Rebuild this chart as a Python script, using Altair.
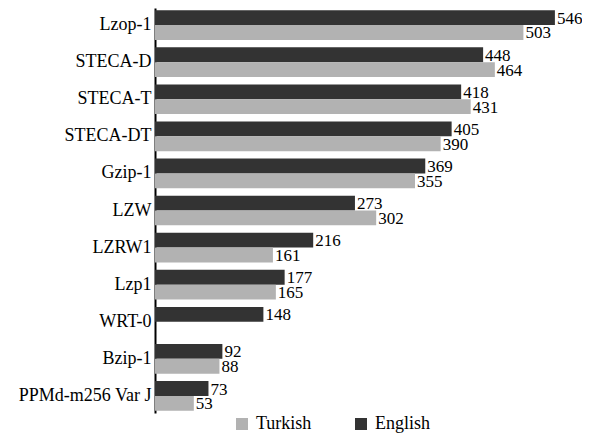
import altair as alt
import pandas as pd

categories = ["Lzop-1", "STECA-D", "STECA-T", "STECA-DT", "Gzip-1", "LZW",
              "LZRW1", "Lzp1", "WRT-0", "Bzip-1", "PPMd-m256 Var J"]
english = [546, 448, 418, 405, 369, 273, 216, 177, 148, 92, 73]
turkish = [503, 464, 431, 390, 355, 302, 161, 165, None, 88, 53]

rows = []
for c, e, t in zip(categories, english, turkish):
    rows.append({"cat": c, "lang": "English", "value": e})
    if t is not None:
        rows.append({"cat": c, "lang": "Turkish", "value": t})
df = pd.DataFrame(rows)

FONT = "Liberation Serif"

y_enc = alt.Y("cat:N", sort=categories,
              scale=alt.Scale(paddingInner=0.2, paddingOuter=0.06),
              axis=alt.Axis(title=None, ticks=False, grid=False, domainColor="black",
                            domainWidth=2, labelPadding=4, labelFontSize=18,
                            labelFont=FONT, labelColor="black"))
yoff = alt.YOffset("lang:N", scale=alt.Scale(domain=["English", "Turkish"]))
x_enc = alt.X("value:Q", scale=alt.Scale(domain=[0, 583], nice=False, zero=True), axis=None)

base = alt.Chart(df)

bars = base.mark_bar().encode(
    y=y_enc,
    yOffset=yoff,
    x=x_enc,
    color=alt.Color("lang:N",
                    scale=alt.Scale(domain=["Turkish", "English"],
                                    range=["#b2b2b2", "#333333"]),
                    legend=alt.Legend(title=None, orient="none", direction="horizontal",
                                      legendX=78, legendY=407,
                                      symbolType="square", symbolSize=144,
                                      symbolStrokeWidth=0, labelFontSize=18,
                                      labelFont=FONT, labelColor="black",
                                      columnPadding=40, labelOffset=5)),
)

labels = base.mark_text(align="left", baseline="middle", dx=2, dy=1,
                        fontSize=17, font=FONT, color="black").encode(
    y=alt.Y("cat:N", sort=categories),
    yOffset=yoff,
    x=x_enc,
    text=alt.Text("value:Q"),
)

chart = alt.layer(bars, labels).properties(
    width=427, height=405,
    padding={"left": 147, "top": 0, "right": 0, "bottom": 26},
    autosize=alt.AutoSizeParams(type="none"),
    background="white",
).configure(font=FONT).configure_view(stroke=None, strokeWidth=0)

chart.save("out.html", embed_options={"renderer": "svg", "actions": False})
